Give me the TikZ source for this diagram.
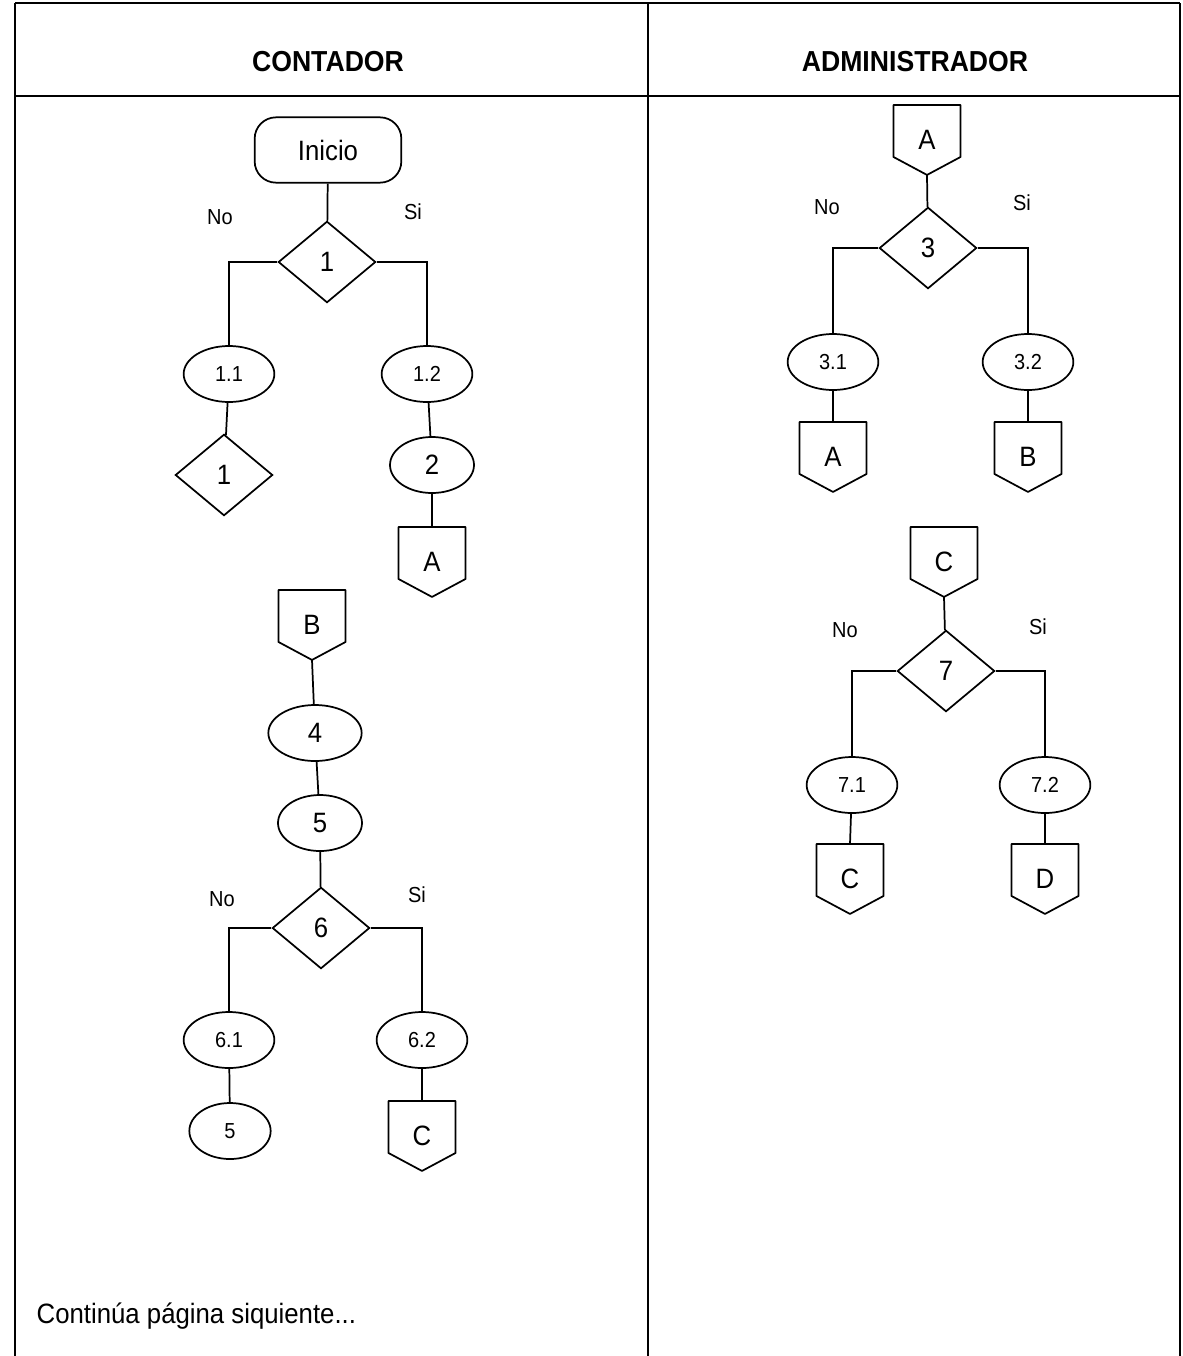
\documentclass[tikz,border=0pt]{standalone}
\usepackage{fontspec}
\setmainfont{Liberation Sans}[FakeStretch=0.92]
\usetikzlibrary{shapes.geometric}
\tikzset{
  base/.style={draw, line width=1.3pt, inner sep=0pt},
  bigfont/.style={font=\fontsize{21}{23}\selectfont},
  smallfont/.style={font=\fontsize{16.3}{18}\selectfont},
  dec/.style={base, diamond, minimum width=73pt, minimum height=61pt, bigfont},
  proc/.style={base, ellipse, minimum width=68pt, minimum height=42pt, smallfont},
  procbig/.style={base, ellipse, minimum width=63pt, minimum height=42pt, bigfont},
  startbox/.style={base, rectangle, rounded corners=16pt, minimum width=110pt, minimum height=49pt, bigfont},
  offpage/.style={inner sep=0pt, minimum width=50pt, minimum height=52pt, bigfont},
  lab/.style={smallfont},
  head/.style={font=\bfseries\fontsize{21.7}{24}\selectfont},
  link/.style={line width=1.3pt},
  tab/.style={line width=1.2pt}
}
\begin{document}
\begin{tikzpicture}[x=0.75pt, y=-0.75pt]
\useasboundingbox (0,0) rectangle (1182,1356);
% table
\draw[tab] (15,3) -- (1180,3);
\draw[tab] (15,96) -- (1180,96);
\draw[tab] (15,3) -- (15,1356);
\draw[tab] (648,3) -- (648,1356);
\draw[tab] (1180,3) -- (1180,1356);
\node[head] (h1) at (328,62) {CONTADOR};
\node[head] (h2) at (915,62) {ADMINISTRADOR};
\node[anchor=base west, font=\fontsize{21}{23}\selectfont] (cont) at (32,1323) {Continúa página siquiente...};

% ---------- CONTADOR ----------
\node[startbox] (inicio) at (328,150) {Inicio};
\node[dec] (d1) at (327,262) {1};
\node[lab] (no1) at (220,217) {No};
\node[lab] (si1) at (413,212) {Si};
\node[proc] (e11) at (229,374) {1.1};
\node[proc] (e12) at (427,374) {1.2};
\node[dec] (d1b) at (224,475) {1};
\node[procbig] (e2) at (432,465) {2};
\node[offpage] (cA1) at (432,562) {A};

\node[offpage] (cB1) at (312,625) {B};
\node[procbig, minimum width=70pt] (e4) at (315,733) {4};
\node[procbig] (e5) at (320,823) {5};
\node[dec] (d6) at (321,928) {6};
\node[lab] (no6) at (222,899) {No};
\node[lab] (si6) at (417,895) {Si};
\node[proc] (e61) at (229,1040) {6.1};
\node[proc] (e62) at (422,1040) {6.2};
\node[proc, minimum width=61pt] (e5b) at (230,1131) {5};
\node[offpage] (cC1) at (422,1136) {C};

% ---------- ADMINISTRADOR ----------
\node[offpage] (cA2) at (927,140) {A};
\node[dec] (d3) at (928,248) {3};
\node[lab] (no3) at (827,207) {No};
\node[lab] (si3) at (1022,203) {Si};
\node[proc] (e31) at (833,362) {3.1};
\node[proc] (e32) at (1028,362) {3.2};
\node[offpage] (cA3) at (833,457) {A};
\node[offpage] (cB2) at (1028,457) {B};

\node[offpage] (cC2) at (944,562) {C};
\node[dec] (d7) at (946,671) {7};
\node[lab] (no7) at (845,630) {No};
\node[lab] (si7) at (1038,627) {Si};
\node[proc] (e71) at (852,785) {7.1};
\node[proc] (e72) at (1045,785) {7.2};
\node[offpage] (cC3) at (850,879) {C};
\node[offpage] (cD) at (1045,879) {D};

% off-page connector outlines
\foreach \n in {cA1,cB1,cC1,cA2,cA3,cB2,cC2,cC3,cD}
  \draw[link, line join=round] (\n.north west) -- (\n.north east) -- ([yshift=13.5pt]\n.south east)
     -- (\n.south) -- ([yshift=13.5pt]\n.south west) -- cycle;

% connectors
\draw[link] (inicio) -- (d1);
\draw[link] (d1.west) -| (e11);
\draw[link] (d1.east) -| (e12);
\draw[link] (e11) -- (d1b);
\draw[link] (e12) -- (e2);
\draw[link] (e2) -- (cA1.north);
\draw[link] (cB1.south) -- (e4);
\draw[link] (e4) -- (e5);
\draw[link] (e5) -- (d6);
\draw[link] (d6.west) -| (e61);
\draw[link] (d6.east) -| (e62);
\draw[link] (e61) -- (e5b);
\draw[link] (e62) -- (cC1.north);

\draw[link] (cA2.south) -- (d3);
\draw[link] (d3.west) -| (e31);
\draw[link] (d3.east) -| (e32);
\draw[link] (e31) -- (cA3.north);
\draw[link] (e32) -- (cB2.north);
\draw[link] (cC2.south) -- (d7);
\draw[link] (d7.west) -| (e71);
\draw[link] (d7.east) -| (e72);
\draw[link] (e71) -- (cC3.north);
\draw[link] (e72) -- (cD.north);
\end{tikzpicture}
\end{document}
